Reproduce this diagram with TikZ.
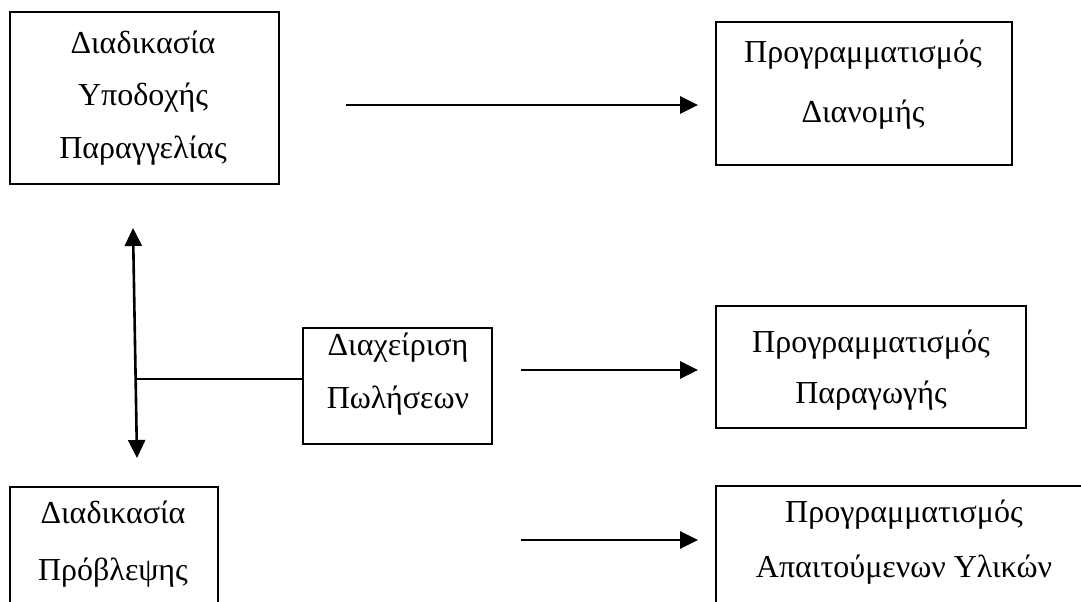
\documentclass[tikz,border=0pt]{standalone}
\usepackage{fontspec}
\setmainfont{Liberation Serif}
\usetikzlibrary{arrows.meta}
\begin{document}
\begin{tikzpicture}[x=1pt,y=-1pt,
  box/.style={draw, line width=1.8pt, inner sep=0pt},
  txt/.style={anchor=base, inner sep=0pt, font=\fontsize{32}{38}\selectfont},
  link/.style={line width=2.6pt},
  tip/.style={},
  arr/.style={link, -{Triangle[length=18pt,width=17pt]}, shorten >=17pt},
  dbl/.style={link, {Triangle[length=18pt,width=17pt]}-{Triangle[length=18pt,width=17pt]}}]
  % page area
  \fill[white] (0,0) rectangle (1081,602);
  \clip (0,0) rectangle (1081,602);

  % boxes
  \node[box, minimum width=269pt, minimum height=172pt] (A) at (144.5,98) {};
  \node[box, minimum width=296pt, minimum height=143pt] (B) at (864,93.5) {};
  \node[box, minimum width=189pt, minimum height=116pt] (S) at (397.5,386) {};
  \node[box, minimum width=310pt, minimum height=122pt] (P) at (871,367) {};
  \node[box, minimum width=208pt, minimum height=122pt] (F) at (114,548) {};
  \node[box, minimum width=376pt, minimum height=122pt] (M) at (904,547) {};

  % labels
  \node[txt] (A1) at (143,53)  {Διαδικασία};
  \node[txt] (A2) at (143,105) {Υποδοχής};
  \node[txt] (A3) at (143,158) {Παραγγελίας};
  \node[txt] (B1) at (863,63)  {Προγραμματισμός};
  \node[txt] (B2) at (863,122) {Διανομής};
  \node[txt] (S1) at (398,355) {Διαχείριση};
  \node[txt] (S2) at (398,408) {Πωλήσεων};
  \node[txt] (P1) at (871,352) {Προγραμματισμός};
  \node[txt] (P2) at (871,403) {Παραγωγής};
  \node[txt] (F1) at (113,523) {Διαδικασία};
  \node[txt] (F2) at (113,580) {Πρόβλεψης};
  \node[txt] (M1) at (904,522) {Προγραμματισμός};
  \node[txt] (M2) at (904,577) {Απαιτούμενων Υλικών};

  % connector end points
  \coordinate (t1) at (346,105);
  \coordinate (m1) at (521,370);
  \coordinate (b1) at (521,540);
  \coordinate (vt) at (133,228);
  \coordinate (vb) at (137,458);
  \coordinate (vj) at (136,379);

  % connectors
  \draw[arr] (t1) -- (t1 -| B.west);
  \draw[arr] (m1) -- (m1 -| P.west);
  \draw[arr] (b1) -- (b1 -| M.west);
  \draw[dbl] (vt) -- (vb);
  \draw[line width=1.8pt] (vj) -- (vj -| S.west);
\end{tikzpicture}
\end{document}
